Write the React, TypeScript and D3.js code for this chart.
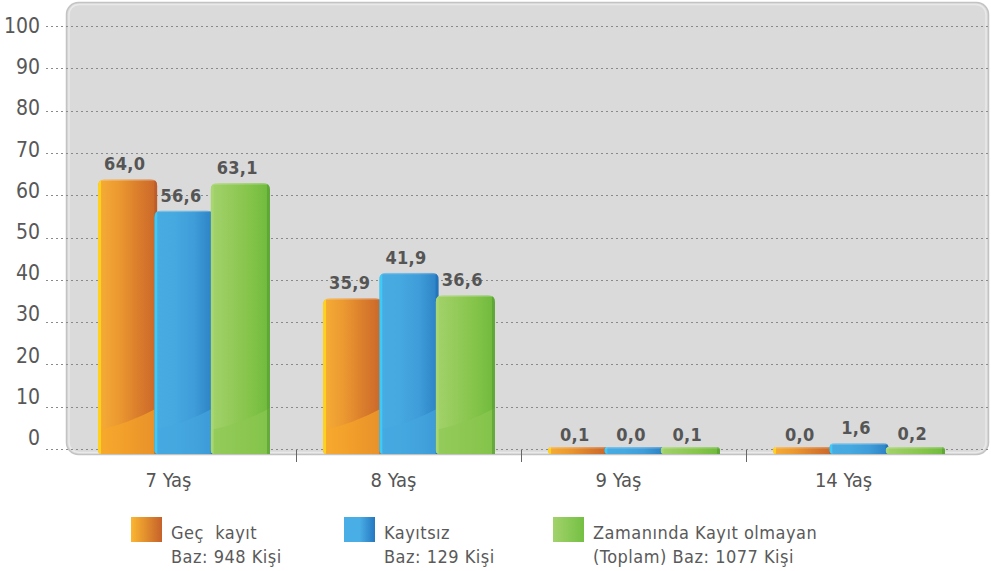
import React from "react";
import * as d3 from "d3";

const categories = ["7 Yaş", "8 Yaş", "9 Yaş", "14 Yaş"];
const seriesKeys = ["gec", "kayitsiz", "zamaninda"];
const gecKayit = [64.0, 35.9, 0.1, 0.0];
const kayitsiz = [56.6, 41.9, 0.0, 1.6];
const zamaninda = [63.1, 36.6, 0.1, 0.2];
const seriesValues = [gecKayit, kayitsiz, zamaninda];
const yTicks = [0, 10, 20, 30, 40, 50, 60, 70, 80, 90, 100];
const legendLines = [
  ["Geç  kayıt", "Baz: 948 Kişi"],
  ["Kayıtsız", "Baz: 129 Kişi"],
  ["Zamanında Kayıt olmayan", "(Toplam) Baz: 1077 Kişi"],
];

const W = 991;
const H = 571;
const FONT = "'DejaVu Sans Condensed', 'DejaVu Sans', sans-serif";

const palette = [
  { stops: ["#f6ad35", "#ec9a31", "#db7e2c", "#c9662a"], edgeL: "#ffd21c", edgeR: "#b9592a", low: "#f7a729" },
  { stops: ["#48abe2", "#46a9e0", "#3f9dd9", "#2c80c4"], edgeL: "#3fcaf6", edgeR: "#1f6db6", low: "#45a7df" },
  { stops: ["#a3d26c", "#95cb5b", "#84c449", "#6eba3d"], edgeL: "#a8d672", edgeR: "#58a034", low: "#8ec853" },
];
const legendGrad = [
  ["#fbb731", "#c6612a"],
  ["#4aaee6", "#4aaee6", "#2478c0"],
  ["#a3d26c", "#74c043"],
];

export default function App() {
  const y = d3.scaleLinear().domain([0, 100]).range([449, 26]);
  const yLabel = d3.scaleLinear().domain([0, 100]).range([437, 25]);
  const x0 = d3.scaleBand<string>().domain(categories).range([71, 971]).paddingInner(0.249).paddingOuter(0.1245);
  const x1 = d3.scaleBand<string>().domain(seriesKeys).range([0, x0.bandwidth()]);
  const base = 454;
  const bw = x1.bandwidth();

  const barPath = (x: number, w: number, top: number) => {
    const h = base - top;
    const r = Math.min(7, h / 2);
    const rb = Math.min(4, h / 2);
    return `M${x},${top + r} Q${x},${top} ${x + r},${top} L${x + w - r},${top} Q${x + w},${top} ${x + w},${top + r} L${x + w},${base} L${x + rb},${base} Q${x},${base} ${x},${base - rb} Z`;
  };

  const bars: React.ReactNode[] = [];
  const labels: React.ReactNode[] = [];
  seriesKeys.forEach((k, si) => {
    categories.forEach((c, ci) => {
      const v = seriesValues[si][ci];
      const x = (x0(c) as number) + (x1(k) as number) - 1;
      const w = bw + 3;
      const top = Math.min(y(v) + 1, 447);
      const id = `clip-${si}-${ci}`;
      const h = base - top;
      const p = palette[si];
      bars.push(
        <g key={id}>
          <clipPath id={id}>
            <path d={barPath(x, w, top)} />
          </clipPath>
          <g clipPath={`url(#${id})`}>
            <rect x={x} y={top} width={w} height={h} fill={`url(#grad-${si})`} />
            {h > 60 && (
              <path
                d={`M${x},${base - 24} Q${x + w * 0.5},${base - 30} ${x + w},${base - 46} L${x + w},${base} L${x},${base} Z`}
                fill={p.low}
                opacity={0.65}
              />
            )}
            <rect x={x} y={top} width={3} height={h} fill={p.edgeL} />
            <rect x={x + w - 3} y={top} width={3} height={h} fill={p.edgeR} opacity={0.7} />
            <rect x={x} y={top} width={w} height={1.5} fill="#ffffff" opacity={0.25} />
          </g>
        </g>
      );
      labels.push(
        <text
          key={`l-${si}-${ci}`}
          x={x + w / 2 - 3}
          y={y(v) - 8}
          textAnchor="middle"
          fontFamily={FONT}
          fontWeight="bold"
          fontSize={18}
          letterSpacing={0.3}
          fill="#555555"
        >
          {v.toFixed(1).replace(".", ",")}
        </text>
      );
    });
  });

  const legendX = [131, 344, 553];

  return (
    <svg width={W} height={H} style={{ position: "absolute", left: 0, top: 0, background: "#ffffff" }}>
      <defs>
        {palette.map((p, i) => (
          <linearGradient key={i} id={`grad-${i}`} x1="0" x2="1" y1="0" y2="0">
            {p.stops.map((s, j) => (
              <stop key={j} offset={`${(j / (p.stops.length - 1)) * 100}%`} stopColor={s} />
            ))}
          </linearGradient>
        ))}
        {legendGrad.map((g, i) => (
          <linearGradient key={i} id={`lg-${i}`} x1="0" x2="1" y1="0" y2="0">
            {g.map((s, j) => (
              <stop key={j} offset={`${(j / (g.length - 1)) * 100}%`} stopColor={s} />
            ))}
          </linearGradient>
        ))}
      </defs>
      <rect x={0} y={0} width={W} height={H} fill="#ffffff" />
      <rect x={66.5} y={2.5} width={922} height={452} rx={12} fill="#dadada" stroke="#c3c3c3" strokeWidth={1.5} />
      <rect x={69} y={4.5} width={917} height={448} rx={10} fill="none" stroke="#e9e9e9" strokeWidth={1.5} />
      {yTicks.map((t) => (
        <line key={t} x1={46} x2={991} y1={Math.round(y(t)) + 0.5} y2={Math.round(y(t)) + 0.5} stroke="#8a8a8a" strokeWidth={1} strokeDasharray="2,3" />
      ))}
      {yTicks.map((t) => (
        <text key={`t${t}`} x={40} y={yLabel(t) + 8} textAnchor="end" fontFamily={FONT} fontSize={21} fill="#585858">
          {t}
        </text>
      ))}
      {categories.slice(1).map((c) => {
        const xx = Math.round((x0(c) as number) - (x0.step() - x0.bandwidth()) / 2) + 0.5;
        return <line key={`s${c}`} x1={xx} x2={xx} y1={450} y2={462} stroke="#666666" strokeWidth={1} />;
      })}
      {bars}
      {labels}
      {categories.map((c) => (
        <text key={`c${c}`} x={(x0(c) as number) + x0.bandwidth() / 2 - 15} y={487} textAnchor="middle" fontFamily={FONT} fontSize={20} fill="#555555">
          {c}
        </text>
      ))}
      {legendLines.map((lines, i) => (
        <g key={`leg${i}`}>
          <rect x={legendX[i]} y={517} width={31} height={25} fill={`url(#lg-${i})`} />
          {lines.map((ln, j) => (
            <text key={j} x={legendX[i] + 40} y={539 + j * 24} fontFamily={FONT} fontSize={18} letterSpacing={0.5} fill="#5a5a5a" style={{ whiteSpace: "pre" }}>
              {ln}
            </text>
          ))}
        </g>
      ))}
    </svg>
  );
}
